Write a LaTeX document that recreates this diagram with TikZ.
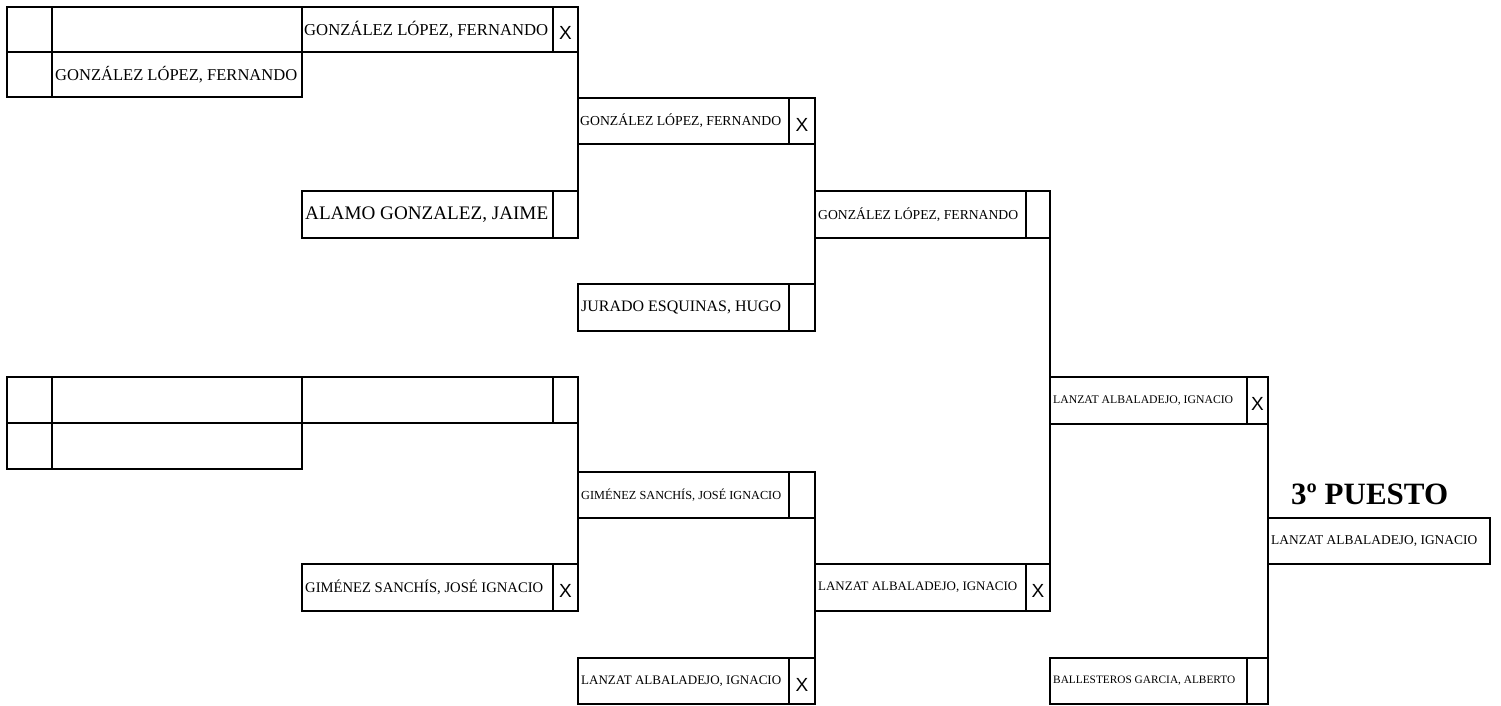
\documentclass[tikz,border=0pt]{standalone}
\usepackage{fontspec}
\setmainfont{Liberation Serif}
\newfontfamily\xfont{Liberation Sans}
\usepackage{graphicx}
\tikzset{
 cellbox/.style={draw, line width=2.1pt, inner sep=0pt, outer sep=0pt, rectangle},
 nametext/.style={anchor=west, inner sep=0pt},
 xtext/.style={inner sep=0pt, font=\xfont\fontsize{19}{19}\selectfont},
 conn/.style={line width=2.1pt},
 titletext/.style={anchor=base west, inner sep=0pt, font=\bfseries}
}
\newcommand{\plcell}[5]{\node[cellbox, minimum width={#4-#2}, minimum height={#5-#3}] (#1) at ({(#2+#4)/2},{(#3+#5)/2}) {};}
\newcommand{\plbox}[6]{\plcell{#1}{#2}{#3}{#4}{#6}\plcell{#1x}{#4}{#3}{#5}{#6}}
\newcommand{\fitw}[2]{\resizebox{#1pt}{!}{#2}}
\begin{document}
\begin{tikzpicture}[x=1pt,y=-1pt]
\useasboundingbox (0,0) rectangle (1501,706);
% top-left group
\plcell{TLa}{7}{7}{52}{52}
\plcell{TLb}{52}{7}{302}{52}
\plcell{TLc}{7}{52}{52}{97}
\plcell{TLd}{52}{52}{302}{97}
\plbox{Ra}{302}{7}{553}{578}{52}
\plbox{Rb}{302}{191}{553}{578}{238}
% bottom-left group
\plcell{BLa}{7}{377}{52}{423}
\plcell{BLb}{52}{377}{302}{423}
\plcell{BLc}{7}{423}{52}{469}
\plcell{BLd}{52}{423}{302}{469}
\plbox{Rc}{302}{377}{553}{578}{423}
\plbox{Rd}{302}{564}{553}{578}{611}
% round 2
\plbox{Sa}{578}{98}{789}{815}{144}
\plbox{Sb}{578}{284}{789}{815}{331}
\plbox{Sc}{578}{472}{789}{815}{518}
\plbox{Sd}{578}{658}{789}{815}{704}
% round 3
\plbox{Ta}{815}{191}{1026}{1050}{238}
\plbox{Tb}{815}{564}{1026}{1050}{611}
% round 4
\plbox{Ua}{1050}{377}{1247}{1268}{424}
\plbox{Ub}{1050}{658}{1247}{1268}{704}
% final
\plcell{F}{1268}{518}{1490}{564}
% names
\node[nametext] (TLdt) at ([xshift=3pt]TLd.west) {\fitw{242}{GONZÁLEZ LÓPEZ, FERNANDO}};
\node[nametext] (Rat) at ([xshift=2pt]Ra.west) {\fitw{244}{GONZÁLEZ LÓPEZ, FERNANDO}};
\node[nametext] (Rbt) at ([xshift=3pt]Rb.west) {\fitw{243}{ALAMO GONZALEZ, JAIME}};
\node[nametext] (Rdt) at ([xshift=3pt]Rd.west) {\fitw{238}{GIMÉNEZ SANCHÍS, JOSÉ IGNACIO}};
\node[nametext] (Sat) at ([xshift=2pt]Sa.west) {\fitw{201}{GONZÁLEZ LÓPEZ, FERNANDO}};
\node[nametext] (Sbt) at ([xshift=3pt]Sb.west) {\fitw{200}{JURADO ESQUINAS, HUGO}};
\node[nametext] (Sct) at ([xshift=3pt]Sc.west) {\fitw{200}{GIMÉNEZ SANCHÍS, JOSÉ IGNACIO}};
\node[nametext] (Sdt) at ([xshift=3pt]Sd.west) {\fitw{200}{LANZAT ALBALADEJO, IGNACIO}};
\node[nametext] (Tat) at ([xshift=3pt]Ta.west) {\fitw{200}{GONZÁLEZ LÓPEZ, FERNANDO}};
\node[nametext] (Tbt) at ([xshift=3pt]Tb.west) {\fitw{199}{LANZAT ALBALADEJO, IGNACIO}};
\node[nametext] (Uat) at ([xshift=3pt]Ua.west) {\fitw{180}{LANZAT ALBALADEJO, IGNACIO}};
\node[nametext] (Ubt) at ([xshift=3pt]Ub.west) {\fitw{182}{BALLESTEROS GARCIA, ALBERTO}};
\node[nametext] (Ft) at ([xshift=3pt]F.west) {\fitw{206}{LANZAT ALBALADEJO, IGNACIO}};
% X marks
\node[xtext] (Ram) at ([yshift=-3.5pt]Rax.center) {X};
\node[xtext] (Rdm) at ([yshift=-3.5pt]Rdx.center) {X};
\node[xtext] (Sam) at ([yshift=-3.5pt]Sax.center) {X};
\node[xtext] (Sdm) at ([yshift=-3.5pt]Sdx.center) {X};
\node[xtext] (Tbm) at ([yshift=-3.5pt]Tbx.center) {X};
\node[xtext] (Uam) at ([yshift=-3.5pt]Uax.center) {X};
% title
\node[titletext] (title) at (1291,504) {\fitw{157}{3º PUESTO}};
% connectors
\draw[conn] (Rax.south east) -- (Rbx.north east);
\draw[conn] (Rcx.south east) -- (Rdx.north east);
\draw[conn] (Sax.south east) -- (Sbx.north east);
\draw[conn] (Scx.south east) -- (Sdx.north east);
\draw[conn] (Tax.south east) -- (Tbx.north east);
\draw[conn] (Uax.south east) -- (Ubx.north east);
\end{tikzpicture}
\end{document}
